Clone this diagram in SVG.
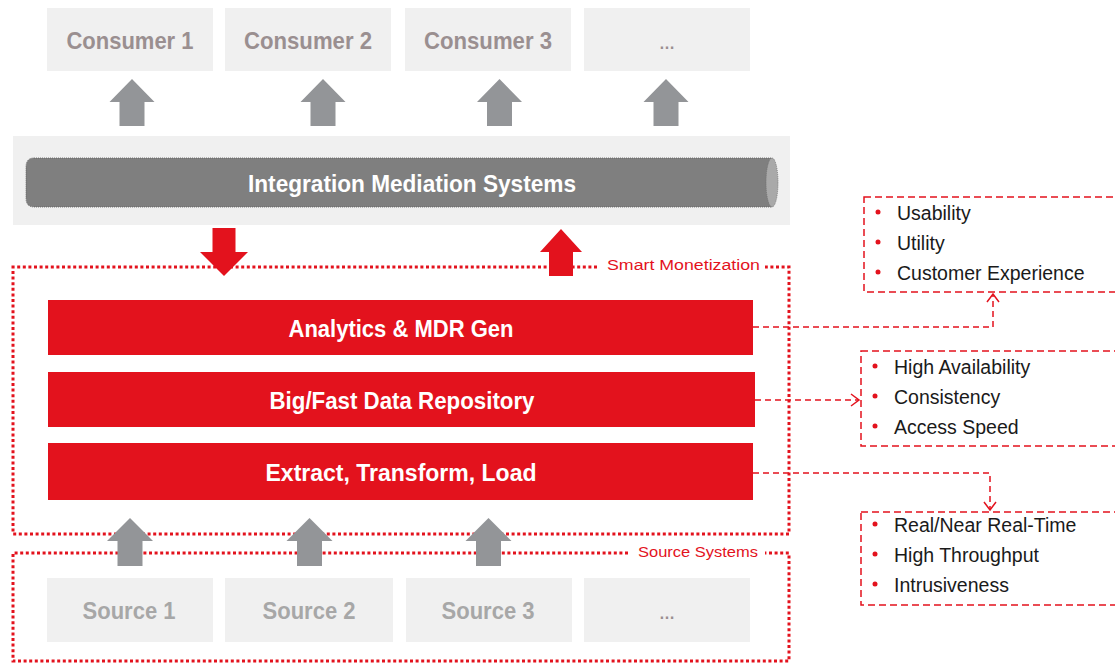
<svg xmlns="http://www.w3.org/2000/svg" width="1115" height="663" viewBox="0 0 1115 663">
<defs>
<style>
.box{fill:#f0f0f0}
.ctext{font-family:"Liberation Sans",Arial,sans-serif;font-weight:bold;font-size:24px;fill:#9a8f90;text-anchor:middle}
.stext{font-family:"Liberation Sans",Arial,sans-serif;font-weight:bold;font-size:24px;fill:#a7a7a7;text-anchor:middle}
.dots{font-family:"Liberation Sans",Arial,sans-serif;font-weight:bold;font-size:16px;text-anchor:middle}
.wtext{font-family:"Liberation Sans",Arial,sans-serif;font-weight:bold;font-size:23px;fill:#ffffff;text-anchor:middle}
.bar{fill:#e3121d}
.garrow{fill:#939598}
.rarrow{fill:#e3121d}
.dotted{fill:none;stroke:#e3121d;stroke-width:3;stroke-dasharray:3 2.6}
.dashed{fill:none;stroke:#e3121d;stroke-width:1.5;stroke-dasharray:7 4}
.conn{fill:none;stroke:#e3121d;stroke-width:1.5;stroke-dasharray:6 4}
.chev{fill:none;stroke:#e3121d;stroke-width:1.5}
.lbl{font-family:"Liberation Sans",Arial,sans-serif;font-size:15.5px;fill:#e3121d}
.item{font-family:"Liberation Sans",Arial,sans-serif;font-size:19.5px;fill:#1a1a1a}
.bul{fill:#e3121d}
</style>
</defs>
<rect width="1115" height="663" fill="#ffffff"/>

<g id="consumers">
<g id="consumer1"><rect class="box" x="47" y="8" width="166" height="63"/><text class="ctext" x="130" y="49" textLength="127" lengthAdjust="spacingAndGlyphs">Consumer 1</text></g>
<g id="consumer2"><rect class="box" x="225" y="8" width="166" height="63"/><text class="ctext" x="308" y="49" textLength="128" lengthAdjust="spacingAndGlyphs">Consumer 2</text></g>
<g id="consumer3"><rect class="box" x="405" y="8" width="166" height="63"/><text class="ctext" x="488" y="49" textLength="128" lengthAdjust="spacingAndGlyphs">Consumer 3</text></g>
<g id="consumer4"><rect class="box" x="584" y="8" width="166" height="63"/><text class="dots" x="667" y="49" fill="#9a8f90">…</text></g>
</g>

<g id="integration">
<rect class="box" x="13" y="136" width="777" height="89"/>
<path d="M34 158 H772 V207 H34 Q26 207 26 198 V167 Q26 158 34 158 Z" fill="#7f7f7f" stroke="#5e5e5e" stroke-width="0.8" stroke-dasharray="1 1"/>
<ellipse cx="772" cy="182.5" rx="6" ry="24.5" fill="#a9a9a9" stroke="#6e6e6e" stroke-width="0.8" stroke-dasharray="1 1"/>
<text class="wtext" x="412" y="192" textLength="328" lengthAdjust="spacingAndGlyphs">Integration Mediation Systems</text>
</g>

<g id="smart-monetization">
<path class="dotted" d="M597 267 H13 V534 H789 V267 H765"/>
<text class="lbl" x="607" y="270" textLength="153" lengthAdjust="spacingAndGlyphs">Smart Monetization</text>
</g>

<g id="source-systems">
<path class="dotted" d="M628 553 H13 V661 H789 V553 H765"/>
<text class="lbl" x="638" y="557" textLength="120" lengthAdjust="spacingAndGlyphs">Source Systems</text>
</g>

<g id="analytics"><rect class="bar" x="48" y="300" width="705" height="55"/><text class="wtext" x="401" y="337" textLength="225" lengthAdjust="spacingAndGlyphs">Analytics &amp; MDR Gen</text></g>
<g id="repository"><rect class="bar" x="48" y="372" width="707" height="55"/><text class="wtext" x="402" y="409" textLength="265" lengthAdjust="spacingAndGlyphs">Big/Fast Data Repository</text></g>
<g id="etl"><rect class="bar" x="48" y="443" width="705" height="57"/><text class="wtext" x="401" y="481" textLength="271" lengthAdjust="spacingAndGlyphs">Extract, Transform, Load</text></g>

<g id="sources">
<g id="source1"><rect class="box" x="47" y="578" width="166" height="64"/><text class="stext" x="129" y="619" textLength="93" lengthAdjust="spacingAndGlyphs">Source 1</text></g>
<g id="source2"><rect class="box" x="225" y="578" width="168" height="64"/><text class="stext" x="309" y="619" textLength="93" lengthAdjust="spacingAndGlyphs">Source 2</text></g>
<g id="source3"><rect class="box" x="406" y="578" width="166" height="64"/><text class="stext" x="488" y="619" textLength="93" lengthAdjust="spacingAndGlyphs">Source 3</text></g>
<g id="source4"><rect class="box" x="584" y="578" width="166" height="64"/><text class="dots" x="667" y="619" fill="#9a8f90">…</text></g>
</g>

<g id="qualities-analytics">
<rect class="dashed" x="864" y="197" width="260" height="95"/>
<circle class="bul" cx="878" cy="212" r="2.5"/><text class="item" x="897" y="220">Usability</text>
<circle class="bul" cx="878" cy="242" r="2.5"/><text class="item" x="897" y="250">Utility</text>
<circle class="bul" cx="878" cy="272" r="2.5"/><text class="item" x="897" y="280">Customer Experience</text>
</g>
<g id="qualities-repository">
<rect class="dashed" x="861" y="351" width="263" height="95"/>
<circle class="bul" cx="875" cy="366" r="2.5"/><text class="item" x="894" y="374">High Availability</text>
<circle class="bul" cx="875" cy="396" r="2.5"/><text class="item" x="894" y="404">Consistency</text>
<circle class="bul" cx="875" cy="426" r="2.5"/><text class="item" x="894" y="434">Access Speed</text>
</g>
<g id="qualities-etl">
<rect class="dashed" x="861" y="512" width="263" height="93"/>
<circle class="bul" cx="875" cy="524" r="2.5"/><text class="item" x="894" y="532">Real/Near Real-Time</text>
<circle class="bul" cx="875" cy="554" r="2.5"/><text class="item" x="894" y="562">High Throughput</text>
<circle class="bul" cx="875" cy="584" r="2.5"/><text class="item" x="894" y="592">Intrusiveness</text>
</g>

<g id="connectors">
<path class="garrow" d="M132 79 L154.5 102 H144.5 V126 H119.5 V102 H109.5 Z"/>
<path class="garrow" d="M323 79 L345.5 102 H335.5 V126 H310.5 V102 H300.5 Z"/>
<path class="garrow" d="M499.5 79 L522 102 H512 V126 H487 V102 H477 Z"/>
<path class="garrow" d="M666 79 L688.5 102 H678.5 V126 H653.5 V102 H643.5 Z"/>
<path class="rarrow" d="M212.5 228 H235.5 V252 H248 L224 276 L200 252 H212.5 Z"/>
<path class="rarrow" d="M561 229 L582 252 H573 V276 H549 V252 H540 Z"/>
<path class="garrow" d="M130 518 L153 541 H142.5 V566 H117.5 V541 H107 Z"/>
<path class="garrow" d="M309.5 518 L332.5 541 H322 V566 H297 V541 H286.5 Z"/>
<path class="garrow" d="M488.5 518 L511.5 541 H501 V566 H476 V541 H465.5 Z"/>
<path class="conn" d="M753 327 H993 V294"/>
<polyline class="chev" points="987,302 993,294 999,302"/>
<path class="conn" d="M755 400 H859"/>
<polyline class="chev" points="851,394 859,400 851,406"/>
<path class="conn" d="M753 473 H990 V510"/>
<polyline class="chev" points="984,502 990,510 996,502"/>
</g>
</svg>
